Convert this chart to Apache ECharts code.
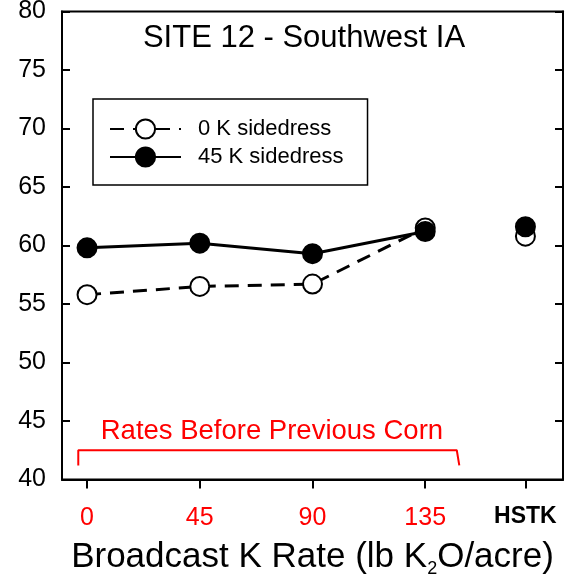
<!DOCTYPE html>
<html>
<head>
<meta charset="utf-8">
<script src="https://cdn.jsdelivr.net/npm/echarts@6/dist/echarts.min.js"></script>
<style>
  html, body { margin: 0; padding: 0; background: #fff; }
  #chart { width: 574px; height: 574px; }
</style>
</head>
<body>
<div id="chart"></div>
<script>
// Broadcast K rates applied before the previous corn crop, plus the HSTK check
const rates = [0, 45, 90, 135];
const hstkPos = 175;
const xTickValues = [0, 45, 90, 135, 175];
const xTickLabels = ['0', '45', '90', '135', 'HSTK'];

// Yield response for each sidedress treatment
const zeroK = [55.8, 56.5, 56.7, 61.5];
const fortyFiveK = [59.8, 60.2, 59.3, 61.2];
const hstkZeroK = 60.8;
const hstkFortyFiveK = 61.6;

const seriesNames = ['0 K sidedress', '45 K sidedress'];

// Bracket spanning the broadcast rate group (axis units)
const bracketX = [-3.5, -3.5, 147.6, 148.6];
const bracketY = [41.2, 42.5, 42.5, 41.2];
const bracketText = 'Rates Before Previous Corn';
const bracketTextAt = [73.8, 44.1];

const FONT = "'Liberation Sans', Arial, sans-serif";

const chart = echarts.init(document.getElementById('chart'), null, { renderer: 'canvas' });

const openStyle = { color: '#fff', borderColor: '#000', borderWidth: 2, opacity: 1 };
const filledStyle = { color: '#000', borderColor: '#000', borderWidth: 2, opacity: 1 };

const option = {
  animation: false,
  backgroundColor: '#fff',
  textStyle: { fontFamily: FONT },
  grid: {
    left: 62, right: 11, top: 11.5, bottom: 94.5,
    containLabel: false, outerBoundsMode: 'none',
    show: true, borderColor: '#000', borderWidth: 2, backgroundColor: 'transparent'
  },
  legend: {
    data: seriesNames,
    orient: 'vertical',
    left: 93, top: 99,
    padding: [19, 24, 17, 16],
    itemWidth: 71, itemHeight: 24, itemGap: 6,
    borderColor: '#000', borderWidth: 1.5,
    formatter: name => '{t|' + name + '}',
    textStyle: {
      fontFamily: FONT, fontSize: 22, color: '#000',
      rich: { t: { fontFamily: FONT, fontSize: 22, color: '#000', padding: [0, 0, 0, 12] } }
    }
  },
  xAxis: {
    type: 'value',
    min: -10, max: 190,
    axisLine: { show: true, onZero: false, lineStyle: { color: '#000', width: 2 } },
    axisTick: {
      show: true, inside: false, length: 9, customValues: xTickValues,
      lineStyle: { color: '#000', width: 2 }
    },
    axisLabel: {
      show: true, margin: 26, customValues: xTickValues,
      formatter: v => {
        const i = xTickValues.indexOf(v);
        const txt = i >= 0 ? xTickLabels[i] : '';
        return i === xTickValues.length - 1 ? '{b|' + txt + '}' : '{r|' + txt + '}';
      },
      rich: {
        r: { fontFamily: FONT, fontSize: 25, color: '#ff0000' },
        b: { fontFamily: FONT, fontSize: 23, fontWeight: 'bold', color: '#000' }
      }
    },
    splitLine: { show: false },
    name: 'Broadcast K Rate (lb K{s|2}O/acre)',
    nameLocation: 'middle',
    nameGap: 51,
    nameTextStyle: {
      fontFamily: FONT, fontSize: 35, color: '#000', lineHeight: 43,
      rich: { s: { fontFamily: FONT, fontSize: 18, color: '#000', lineHeight: 18, verticalAlign: 'bottom' } }
    }
  },
  yAxis: [
    {
      type: 'value', min: 40, max: 80, interval: 5, position: 'left',
      axisLine: { show: true, onZero: false, lineStyle: { color: '#000', width: 2 } },
      axisTick: { show: true, inside: true, length: 8, lineStyle: { color: '#000', width: 2 } },
      axisLabel: { fontFamily: FONT, fontSize: 25, color: '#000', margin: 16 },
      splitLine: { show: false }
    },
    {
      type: 'value', min: 40, max: 80, interval: 5, position: 'right',
      axisLine: { show: true, onZero: false, lineStyle: { color: '#000', width: 2 } },
      axisTick: { show: true, inside: true, length: 8, lineStyle: { color: '#000', width: 2 } },
      axisLabel: { show: false },
      splitLine: { show: false }
    }
  ],
  series: [
    {
      name: seriesNames[0], type: 'line',
      data: rates.map((r, i) => [r, zeroK[i]]),
      symbol: 'circle', symbolSize: 19, showSymbol: true,
      itemStyle: openStyle,
      lineStyle: { color: '#000', width: 3, type: [14, 9] },
      z: 3
    },
    {
      name: seriesNames[1], type: 'line',
      data: rates.map((r, i) => [r, fortyFiveK[i]]),
      symbol: 'circle', symbolSize: 19, showSymbol: true,
      itemStyle: filledStyle,
      lineStyle: { color: '#000', width: 3, type: 'solid' },
      z: 4
    },
    {
      name: seriesNames[0], type: 'scatter',
      data: [[hstkPos, hstkZeroK]],
      symbol: 'circle', symbolSize: 19,
      itemStyle: openStyle, z: 5
    },
    {
      name: seriesNames[1], type: 'scatter',
      data: [[hstkPos, hstkFortyFiveK]],
      symbol: 'circle', symbolSize: 19,
      itemStyle: filledStyle, z: 6
    },
    {
      name: 'bracket', type: 'line',
      data: bracketX.map((x, i) => [x, bracketY[i]]),
      symbol: 'none', silent: true,
      lineStyle: { color: '#ff0000', width: 2 },
      z: 2
    }
  ]
};

chart.setOption(option);

// Chart title and the red group caption
const captionPos = chart.convertToPixel({ gridIndex: 0 }, bracketTextAt);
chart.setOption({
  graphic: [
    {
      type: 'text', x: 304, y: 38,
      style: {
        text: 'SITE 12 - Southwest IA', fontFamily: FONT, fontSize: 31, fill: '#000',
        textAlign: 'center', textVerticalAlign: 'middle'
      }
    },
    {
      type: 'text', x: captionPos[0], y: captionPos[1],
      style: {
        text: bracketText, fontFamily: FONT, fontSize: 27.5, fill: '#ff0000',
        textAlign: 'center', textVerticalAlign: 'middle'
      }
    }
  ]
});
</script>
</body>
</html>
